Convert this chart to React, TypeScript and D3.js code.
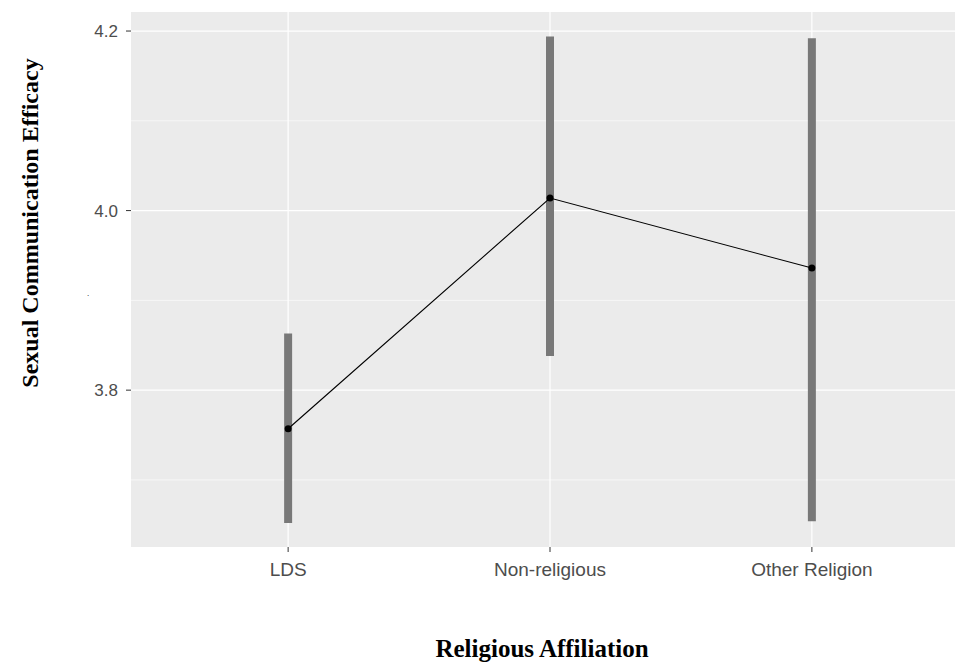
import * as d3 from "d3";

const categories = ["LDS", "Non-religious", "Other Religion"];
const means = [3.757, 4.014, 3.936];
const lower = [3.652, 3.838, 3.654];
const upper = [3.863, 4.194, 4.192];
const yTicks = [3.8, 4.0, 4.2];
const yMinor = [3.7, 3.9, 4.1];

const W = 955;
const H = 662;
const panel = { left: 131, top: 12, right: 969, bottom: 547 };

export default function App() {
  const x = d3
    .scalePoint<string>()
    .domain(categories)
    .range([panel.left, panel.right])
    .padding(0.6);
  const y = d3.scaleLinear().domain([3.6253, 4.2212]).range([panel.bottom, panel.top]);

  const pts = categories.map((c, i) => [x(c) as number, y(means[i])] as [number, number]);
  const line = d3.line()(pts) ?? "";

  return (
    <svg width={W} height={H} style={{ position: "absolute", left: 0, top: 0, background: "#fff" }}>
      <rect
        x={panel.left}
        y={panel.top}
        width={panel.right - panel.left}
        height={panel.bottom - panel.top}
        fill="#ebebeb"
      />
      {yMinor.map((t) => (
        <line key={"m" + t} x1={panel.left} x2={panel.right} y1={y(t)} y2={y(t)} stroke="#fff" strokeWidth={0.6} />
      ))}
      {yTicks.map((t) => (
        <line key={"g" + t} x1={panel.left} x2={panel.right} y1={y(t)} y2={y(t)} stroke="#fff" strokeWidth={1.2} />
      ))}
      {categories.map((c) => (
        <line key={"v" + c} x1={x(c)} x2={x(c)} y1={panel.top} y2={panel.bottom} stroke="#fff" strokeWidth={1.2} />
      ))}

      {categories.map((c, i) => (
        <line
          key={"e" + c}
          x1={x(c)}
          x2={x(c)}
          y1={y(lower[i])}
          y2={y(upper[i])}
          stroke="#787878"
          strokeWidth={8}
        />
      ))}
      <path d={line} fill="none" stroke="#000" strokeWidth={1.1} />
      {pts.map((p, i) => (
        <circle key={"p" + i} cx={p[0]} cy={p[1]} r={3.5} fill="#000" />
      ))}

      {yTicks.map((t) => (
        <g key={"yt" + t}>
          <line x1={panel.left - 5} x2={panel.left} y1={y(t)} y2={y(t)} stroke="#333" strokeWidth={1} />
          <text
            x={panel.left - 13}
            y={y(t)}
            dy="0.36em"
            textAnchor="end"
            fontFamily="Arial, 'Liberation Sans', sans-serif"
            fontSize={17}
            fill="#4d4d4d"
          >
            {t.toFixed(1)}
          </text>
        </g>
      ))}
      {categories.map((c) => (
        <g key={"xt" + c}>
          <line x1={x(c)} x2={x(c)} y1={panel.bottom} y2={panel.bottom + 5} stroke="#333" strokeWidth={1} />
          <text
            x={x(c)}
            y={576}
            textAnchor="middle"
            fontFamily="Arial, 'Liberation Sans', sans-serif"
            fontSize={19}
            fill="#4d4d4d"
          >
            {c}
          </text>
        </g>
      ))}

      <text
        transform={`translate(38,223) rotate(-90)`}
        textAnchor="middle"
        fontFamily="'Times New Roman', 'Liberation Serif', serif"
        fontWeight="bold"
        fontSize={24}
        fill="#000"
      >
        Sexual Communication Efficacy
      </text>
      <text x={87} y={296} fontFamily="Arial, sans-serif" fontSize={8} fill="#000">
        .
      </text>
      <text
        x={542}
        y={657}
        textAnchor="middle"
        fontFamily="'Times New Roman', 'Liberation Serif', serif"
        fontWeight="bold"
        fontSize={25}
        fill="#000"
      >
        Religious Affiliation
      </text>
    </svg>
  );
}
